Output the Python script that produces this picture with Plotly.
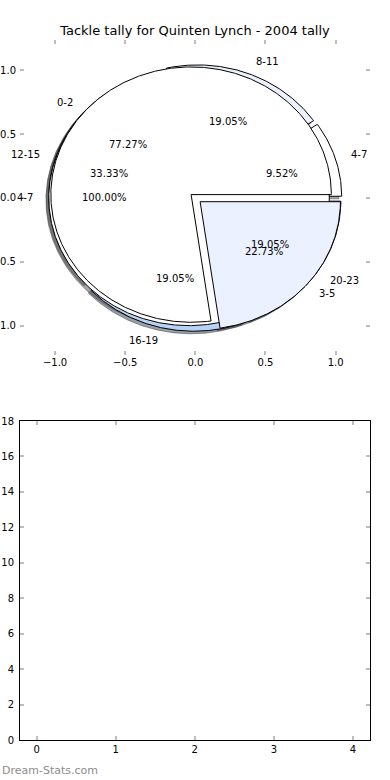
import numpy as np
import plotly.graph_objects as go

# ---------------- data ----------------
title_text = "Tackle tally for Quinten Lynch - 2004 tally"

pie_a_labels = ["4-7"]
pie_a_values = [100.0]

pie_b_labels = ["4-7", "8-11", "12-15", "16-19", "20-23"]
pie_b_values = [9.52, 19.05, 33.33, 19.05, 19.05]

pie_c_labels = ["0-2", "3-5"]
pie_c_values = [77.27, 22.73]

pie_ticks = [-1.0, -0.5, 0.0, 0.5, 1.0]
lower_x_ticks = [0, 1, 2, 3, 4]
lower_y_ticks = [0, 2, 4, 6, 8, 10, 12, 14, 16, 18]

watermark = "Dream-Stats.com"

# ---------------- styles ----------------
FONT = "DejaVu Sans"
# drawing order: B below, then A, then C on top
pies = [
    dict(labels=pie_b_labels, values=pie_b_values, explode=[0.045] * 5,
         colors=["#ffffff", "#ebf1fe", "#ffffff", "#b7d2f4", "#ffffff"]),
    dict(labels=pie_a_labels, values=pie_a_values, explode=[0.045],
         colors=["#ffffff"]),
    dict(labels=pie_c_labels, values=pie_c_values, explode=[0.04, 0.045],
         colors=["#ffffff", "#ebf1fe"]),
]
LABEL_DIST = 1.1
PCT_DIST = 0.6
SHADOW = 0.02


def wedge_geometry(values, explode):
    total = float(sum(values))
    acc = 0.0
    out = []
    for v, e in zip(values, explode):
        t1 = 360.0 * acc / total
        t2 = 360.0 * (acc + v) / total
        acc += v
        mid = np.deg2rad((t1 + t2) / 2)
        cx, cy = e * np.cos(mid), e * np.sin(mid)
        th = np.deg2rad(np.linspace(t1, t2, max(int(abs(t2 - t1)), 2) * 2 + 1))
        ax, ay = cx + np.cos(th), cy + np.sin(th)
        if abs((t2 - t1) - 360.0) < 1e-9:
            xs, ys = list(ax), list(ay)
        else:
            xs = [cx] + list(ax) + [cx]
            ys = [cy] + list(ay) + [cy]
        out.append(dict(xs=np.array(xs), ys=np.array(ys), cx=cx, cy=cy,
                        mid=mid, pct=100.0 * v / total))
    return out


def shadow_color(hexcol):
    h = hexcol.lstrip("#")
    r, g, b = (int(h[i:i + 2], 16) for i in (0, 2, 4))
    return "rgba(%d,%d,%d,0.5)" % (0.3 * r, 0.3 * g, 0.3 * b)


fig = go.Figure()
geoms = [wedge_geometry(p["values"], p["explode"]) for p in pies]

# shadows first (below every wedge)
for p, gs in zip(pies, geoms):
    for g, col in zip(gs, p["colors"]):
        sc = shadow_color(col)
        fig.add_trace(go.Scatter(
            x=g["xs"] - SHADOW, y=g["ys"] - SHADOW, mode="lines",
            fill="toself", fillcolor=sc, line=dict(color=sc, width=1),
            hoverinfo="skip", showlegend=False, xaxis="x", yaxis="y"))

# wedges
for p, gs in zip(pies, geoms):
    for g, col, lab in zip(gs, p["colors"], p["labels"]):
        fig.add_trace(go.Scatter(
            x=g["xs"], y=g["ys"], mode="lines", fill="toself",
            fillcolor=col, line=dict(color="black", width=1),
            hoverinfo="skip", showlegend=False, name=lab,
            xaxis="x", yaxis="y"))

annotations = []
for p, gs in zip(pies, geoms):
    for g, lab in zip(gs, p["labels"]):
        lx = g["cx"] + LABEL_DIST * np.cos(g["mid"])
        ly = g["cy"] + LABEL_DIST * np.sin(g["mid"])
        annotations.append(dict(
            x=lx, y=ly, xref="x", yref="y", text=lab, showarrow=False,
            xanchor="left" if lx > 0 else "right", yanchor="middle",
            font=dict(family=FONT, size=10, color="black")))
        px = g["cx"] + PCT_DIST * np.cos(g["mid"])
        py = g["cy"] + PCT_DIST * np.sin(g["mid"])
        annotations.append(dict(
            x=px, y=py, xref="x", yref="y", text="%.2f%%" % g["pct"],
            showarrow=False, xanchor="center", yanchor="middle",
            font=dict(family=FONT, size=10, color="black")))

annotations.append(dict(
    x=-20 / 350, y=-30 / 700, xref="paper", yref="paper", text=watermark,
    showarrow=False, xanchor="left", yanchor="middle",
    font=dict(family=FONT, size=11, color="#8c8c8c")))

# empty lower axes
fig.add_trace(go.Scatter(x=[], y=[], mode="markers", showlegend=False,
                         xaxis="x2", yaxis="y2"))

tick_common = dict(ticks="inside", ticklen=4, tickwidth=1.5,
                   tickcolor="#bdbdbd", showgrid=False, zeroline=False,
                   automargin=False,
                   tickfont=dict(family=FONT, size=10, color="black"))

fig.update_layout(
    width=390, height=780,
    margin=dict(l=20, r=20, t=40, b=40),
    paper_bgcolor="white", plot_bgcolor="white",
    font=dict(family=FONT, size=10, color="black"),
    title=dict(text=title_text, x=0.5, xref="paper", xanchor="center",
               y=1 - 30 / 780, yref="container", yanchor="middle",
               font=dict(family=FONT, size=13, color="black")),
    xaxis=dict(domain=[0, 1], range=[-1.25, 1.245], anchor="y",
               tickvals=pie_ticks, tickformat=".1f", showline=False,
               mirror="ticks", **tick_common),
    yaxis=dict(domain=[0.55, 1], range=[-1.23, 1.237], anchor="x",
               tickvals=pie_ticks, tickformat=".1f", showline=False,
               mirror="ticks", ticklabelstandoff=3, **tick_common),
    xaxis2=dict(domain=[0, 1], range=[-0.21, 4.215], anchor="y2",
                tickvals=lower_x_ticks, showline=True, linecolor="black",
                linewidth=1, mirror="ticks", **tick_common),
    yaxis2=dict(domain=[0, 319 / 700], range=[0, 18], anchor="x2",
                tickvals=lower_y_ticks, showline=True, linecolor="black",
                linewidth=1, mirror="ticks", ticklabelstandoff=3,
                **tick_common),
    annotations=annotations,
)

# remove the page's default body margin so the figure sits at the window's corner
fig.write_html("out.html", config={"displayModeBar": False},
               post_script="document.body.style.margin='0px';")
